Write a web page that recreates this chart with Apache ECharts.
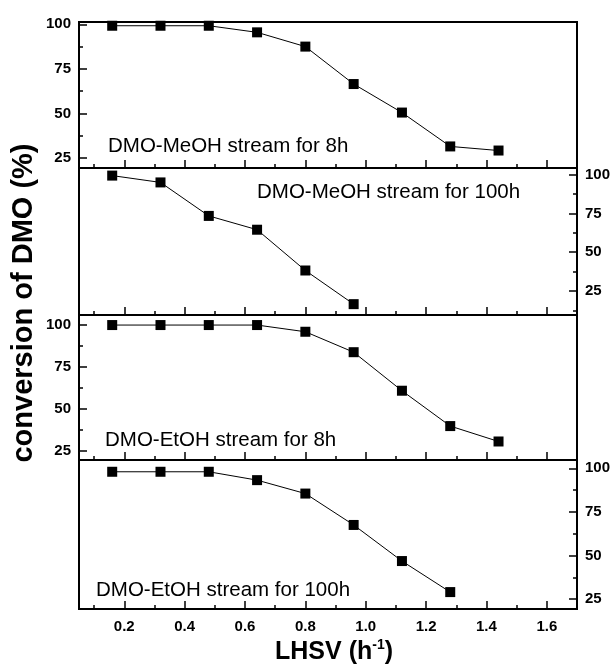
<!DOCTYPE html>
<html>
<head>
<meta charset="utf-8">
<script src="https://cdn.jsdelivr.net/npm/echarts@6/dist/echarts.min.js"></script>
<style>html,body{margin:0;padding:0;background:#fff}#c{width:614px;height:667px}</style>
</head>
<body>
<div id="c"></div>
<script>
// ---- data ----
const lhsv = [0.16, 0.32, 0.48, 0.64, 0.80, 0.96, 1.12, 1.28, 1.44];
const meoh8h = [99.2, 99.2, 99.2, 95.5, 87.5, 66.5, 50.5, 31.5, 29.2];
const meoh100h = [99.4, 95.0, 73.4, 64.5, 38.2, 16.5];
const etoh8h = [100, 100, 100, 100, 96.0, 83.8, 60.8, 39.7, 30.5];
const etoh100h = [98.0, 98.0, 98.0, 93.2, 85.5, 67.5, 46.8, 29.0];
const panelLabels = ['DMO-MeOH stream for 8h', 'DMO-MeOH stream for 100h', 'DMO-EtOH stream for 8h', 'DMO-EtOH stream for 100h'];
const yTicks = [25, 50, 75, 100];
const yMinorTicks = [12.5, 37.5, 62.5, 87.5];
const xTicks = [0.2, 0.4, 0.6, 0.8, 1.0, 1.2, 1.4, 1.6];
const xMinorTicks = [0.1, 0.3, 0.5, 0.7, 0.9, 1.1, 1.3, 1.5];
const yTitle = 'conversion of DMO (%)';

// ---- layout ----
const seriesData = [meoh8h, meoh100h, etoh8h, etoh100h];
const panels = [
  {top: 22, height: 146, min: 19.4, max: 101.3, side: 'left', lx: 108, ly: 146},
  {top: 168, height: 147, min: 9.5, max: 104.3, side: 'right', lx: 257, ly: 192},
  {top: 315, height: 145, min: 19.45, max: 106, side: 'left', lx: 105, ly: 440},
  {top: 460, height: 149, min: 19.3, max: 104.75, side: 'right', lx: 96, ly: 590}
];
const LEFT = 79, RIGHT = 37;
const tickFont = {color: '#000', fontWeight: 'bold', fontSize: 15, fontFamily: 'Liberation Sans, Arial, sans-serif'};

const grid = [], xAxis = [], yAxis = [], series = [], graphic = [];
panels.forEach((p, i) => {
  grid.push({left: LEFT, right: RIGHT, top: p.top, height: p.height, show: true,
    borderColor: '#000', borderWidth: 2, backgroundColor: 'transparent'});
  const last = i === panels.length - 1;
  // major x
  xAxis.push({type: 'value', gridIndex: i, position: 'bottom', min: 0.05, max: 1.7,
    axisLine: {show: true, lineStyle: {color: '#000', width: 2}},
    axisTick: {show: true, inside: true, length: 8, lineStyle: {color: '#000', width: 1.5}, customValues: xTicks},
    axisLabel: {show: last, margin: 10, customValues: xTicks, formatter: v => v.toFixed(1), ...tickFont},
    splitLine: {show: false}});
  // minor x
  xAxis.push({type: 'value', gridIndex: i, position: 'bottom', min: 0.05, max: 1.7,
    axisLine: {show: false},
    axisTick: {show: true, inside: true, length: 4, lineStyle: {color: '#000', width: 1.5}, customValues: xMinorTicks},
    axisLabel: {show: false}, splitLine: {show: false}});
  // major y
  yAxis.push({type: 'value', gridIndex: i, position: p.side, min: p.min, max: p.max,
    axisLine: {show: true, lineStyle: {color: '#000', width: 2}},
    axisTick: {show: true, inside: true, length: 8, lineStyle: {color: '#000', width: 1.5}, customValues: yTicks},
    axisLabel: {show: true, margin: 8, customValues: yTicks, ...tickFont},
    splitLine: {show: false}});
  // minor y
  yAxis.push({type: 'value', gridIndex: i, position: p.side, min: p.min, max: p.max,
    axisLine: {show: false},
    axisTick: {show: true, inside: true, length: 4, lineStyle: {color: '#000', width: 1.5},
      customValues: yMinorTicks.filter(v => v > p.min && v < p.max)},
    axisLabel: {show: false}, splitLine: {show: false}});
  const arr = seriesData[i];
  series.push({type: 'line', xAxisIndex: i * 2, yAxisIndex: i * 2,
    data: arr.map((v, j) => [lhsv[j], v]),
    symbol: 'rect', symbolSize: 10, showSymbol: true,
    itemStyle: {color: '#000'}, lineStyle: {color: '#000', width: 1}, z: 5});
  graphic.push({type: 'text', x: p.lx, y: p.ly, style: {text: panelLabels[i], fill: '#000',
    font: '20.5px "Liberation Sans", Arial, sans-serif', verticalAlign: 'middle', align: 'left'}});
});

graphic.push({type: 'text', x: 24, y: 303, rotation: Math.PI / 2,
  style: {text: yTitle, fill: '#000', font: 'bold 29px "Liberation Sans", Arial, sans-serif', align: 'center', verticalAlign: 'middle'}});
graphic.push({type: 'text', x: 334, y: 652,
  style: {text: 'LHSV (h{sup|-1})', fill: '#000', font: 'bold 25px "Liberation Sans", Arial, sans-serif', align: 'center', verticalAlign: 'middle',
    rich: {sup: {fontSize: 14, fontWeight: 'bold', fontFamily: 'Liberation Sans, Arial, sans-serif', verticalAlign: 'top', padding: [0, 0, 14, 0]}}}});

const chart = echarts.init(document.getElementById('c'), null, {renderer: 'canvas'});
chart.setOption({animation: false, backgroundColor: '#fff', grid, xAxis, yAxis, series, graphic});
</script>
</body>
</html>
